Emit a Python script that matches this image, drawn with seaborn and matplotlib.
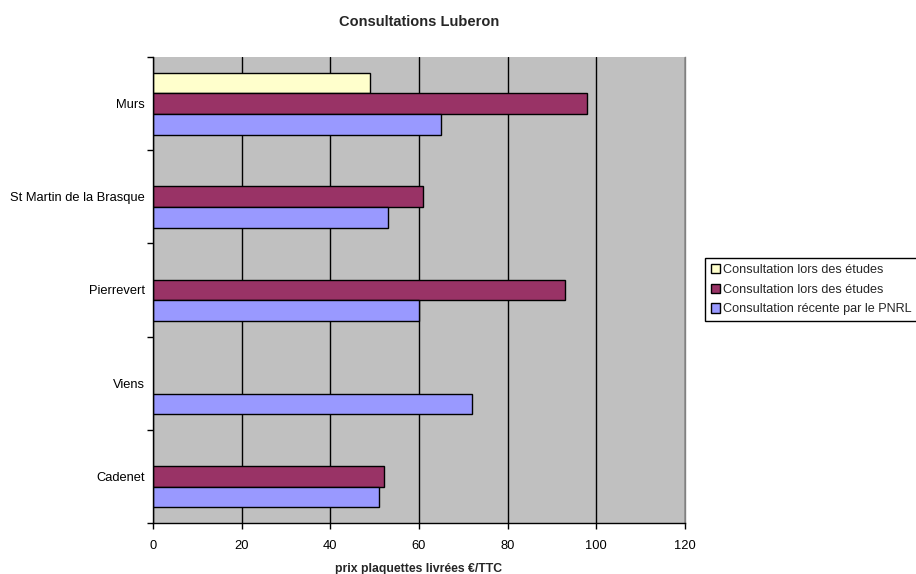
import numpy as np
import pandas as pd
import matplotlib
matplotlib.use("Agg")
import matplotlib.pyplot as plt
import seaborn as sns
from matplotlib.patches import Patch
from matplotlib.ticker import FixedLocator

# Prix des plaquettes livrées (€/TTC) par commune
communes = ["Murs", "St Martin de la Brasque", "Pierrevert", "Viens", "Cadenet"]
series_labels = [
    "Consultation lors des études",
    "Consultation lors des études",
    "Consultation récente par le PNRL",
]
etudes_a = [49, np.nan, np.nan, np.nan, np.nan]
etudes_b = [98, 61, 93, np.nan, 52]
pnrl = [65, 53, 60, 72, 51]
x_ticks = [0, 20, 40, 60, 80, 100, 120]

colors = ["#FFFFCC", "#993366", "#9999FF"]

sns.set_theme(style="white")
plt.rcParams["font.family"] = ["Liberation Sans", "DejaVu Sans"]

rows = []
for k, vals in enumerate([etudes_a, etudes_b, pnrl]):
    for c, v in zip(communes, vals):
        rows.append({"commune": c, "serie": k, "prix": v})
df = pd.DataFrame(rows).dropna()

W, H = 916, 574
fig = plt.figure(figsize=(W / 100, H / 100), dpi=100)
fig.patch.set_facecolor("white")
ax = fig.add_axes([153 / W, 1 - 523 / H, 532 / W, 466 / H])
ax.set_facecolor("#C0C0C0")

sns.barplot(
    data=df, x="prix", y="commune", hue="serie",
    order=communes, hue_order=[0, 1, 2], palette=colors,
    orient="h", width=2 / 3, gap=0, saturation=1,
    edgecolor="black", linewidth=1, errorbar=None,
    legend=False, ax=ax,
)

ax.set_xlim(0, 120)
ax.set_ylim(len(communes) - 0.5, -0.5)
ax.set_xticks(x_ticks)
ax.set_xticklabels([str(t) for t in x_ticks], fontsize=9.3)
ax.xaxis.grid(True, color="black", linewidth=1)
ax.yaxis.grid(False)
ax.set_axisbelow(True)

# category ticks sit between the groups
ax.yaxis.set_minor_locator(FixedLocator(np.arange(-0.5, len(communes), 1.0)))
ax.tick_params(axis="y", which="minor", length=4, width=1, color="black", left=True)
ax.tick_params(axis="y", which="major", length=0, pad=6, labelsize=9.3, labelcolor="black")
ax.tick_params(axis="x", which="major", length=4, width=1, color="black", bottom=True,
               pad=8, labelsize=9.3, labelcolor="black")

for side in ["left", "bottom"]:
    ax.spines[side].set_color("black")
    ax.spines[side].set_linewidth(1)
ax.spines["top"].set_visible(False)
ax.spines["right"].set_color("#808080")
ax.spines["right"].set_linewidth(1)

ax.set_ylabel("")
ax.set_xlabel("prix plaquettes livrées €/TTC", fontsize=8.8, fontweight="bold", labelpad=8)

fig.text(419 / W, 1 - 22 / H, "Consultations Luberon", ha="center", va="center",
         fontsize=10.5, fontweight="bold")

handles = [Patch(facecolor=c, edgecolor="black", linewidth=1) for c in colors]
leg = fig.legend(
    handles, series_labels, loc="upper left",
    bbox_to_anchor=(705 / W, 1 - 258 / H), fontsize=9.1,
    frameon=True, fancybox=False, framealpha=1, edgecolor="black",
    handlelength=0.75, handleheight=0.75, handletextpad=0.2,
    labelspacing=0.62, borderpad=0.45, borderaxespad=0,
)
leg.get_frame().set_linewidth(1)

fig.savefig("out.png", dpi=100)
